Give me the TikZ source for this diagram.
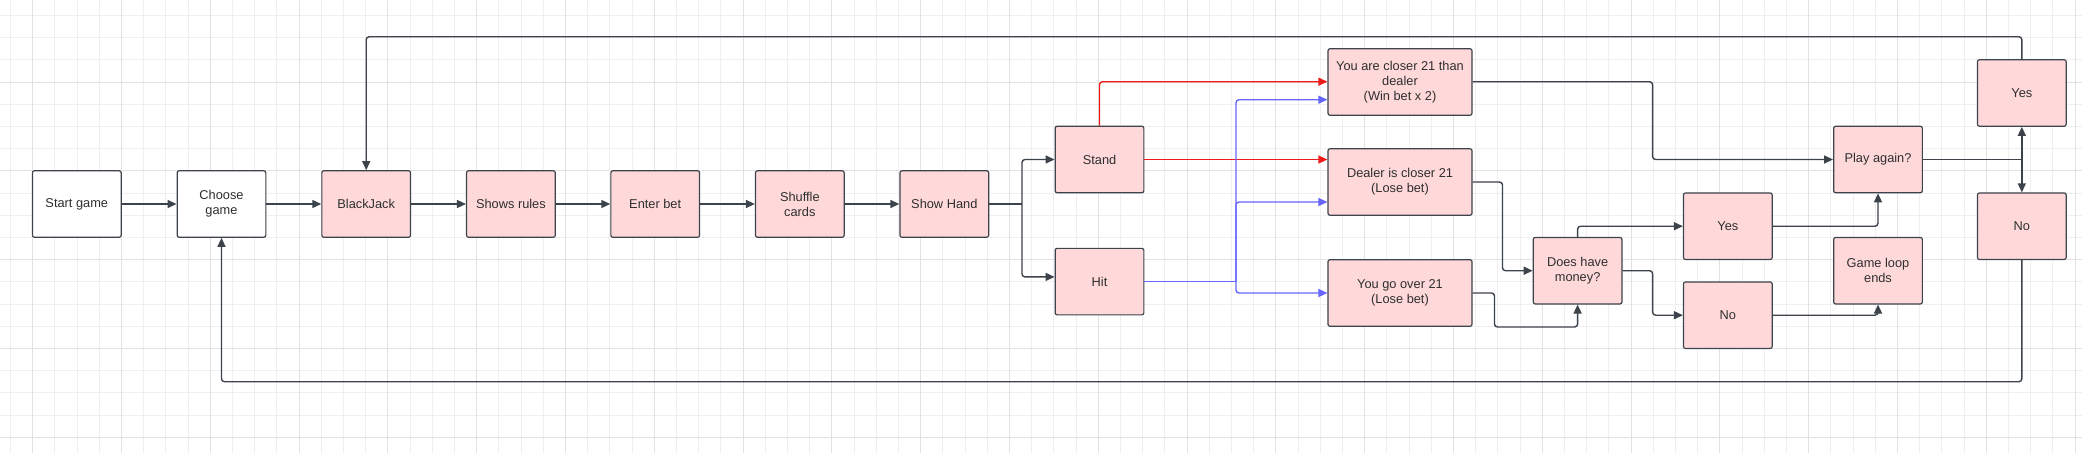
\documentclass[tikz,border=0pt]{standalone}
\usepackage{fontspec}
\setmainfont{Liberation Sans}
\usetikzlibrary{arrows.meta,calc}
\definecolor{pinkfill}{HTML}{FFD9DA}
\definecolor{edgecol}{HTML}{3D434B}
\definecolor{txtcol}{HTML}{2E2E2E}
\definecolor{redline}{HTML}{EE1B1B}
\definecolor{blueline}{HTML}{6666FF}
\definecolor{gridminor}{HTML}{EFEFEF}
\definecolor{gridmajor}{HTML}{E2E2E2}
\begin{document}
\begin{tikzpicture}[x=1pt,y=-1pt,
  box/.style={draw=edgecol,line width=1.2pt,fill=pinkfill,rounded corners=2pt,
    minimum width=88.7pt,minimum height=66.5pt,inner sep=0pt,align=center,
    text=txtcol,font=\fontsize{12.8}{15}\selectfont},
  wbox/.style={box,fill=white},
  widebox/.style={box,minimum width=144pt},
  conn/.style={draw=edgecol,line width=1.4pt,rounded corners=3pt},
  arr/.style={-{Triangle[length=9pt,width=8pt]}},
  rconn/.style={conn,draw=redline},
  bconn/.style={conn,draw=blueline}
]
\useasboundingbox (0,0) rectangle (2082,453);
\fill[white] (0,0) rectangle (2082,453);
% grid
\foreach \i in {0,...,93} \draw[gridminor,line width=0.9pt] ({10.5+22.2*\i},0) -- ({10.5+22.2*\i},453);
\foreach \j in {0,...,20} \draw[gridminor,line width=0.9pt] (0,{437.3-22.2*\j}) -- (2082,{437.3-22.2*\j});
\foreach \i in {0,...,23} \draw[gridmajor,line width=1pt] ({32.7+88.8*\i},0) -- ({32.7+88.8*\i},453);
\foreach \j in {0,...,4} \draw[gridmajor,line width=1pt] (0,{437.3-88.8*\j}) -- (2082,{437.3-88.8*\j});

% nodes
\node[wbox] (start) at (76.8,204) {Start game};
\node[wbox] (choose) at (221.5,204) {Choose\\game};
\node[box] (bj) at (366.2,204) {BlackJack};
\node[box] (rules) at (510.9,204) {Shows rules};
\node[box] (bet) at (655.2,204) {Enter bet};
\node[box] (shuffle) at (799.8,204) {Shuffle\\cards};
\node[box] (show) at (944.3,204) {Show Hand};
\node[box] (stand) at (1099.5,159.5) {Stand};
\node[box] (hit) at (1099.5,281.6) {Hit};
\node[widebox] (win) at (1400,82) {You are closer 21 than\\dealer\\(Win bet x 2)};
\node[widebox] (dealer) at (1400,182) {Dealer is closer 21\\(Lose bet)};
\node[widebox] (over) at (1400,293) {You go over 21\\(Lose bet)};
\node[box] (money) at (1577.6,270.7) {Does have\\money?};
\node[box] (yes1) at (1727.8,226.2) {Yes};
\node[box] (no1) at (1727.8,315.2) {No};
\node[box] (play) at (1878,159.5) {Play again?};
\node[box] (gle) at (1878,270.7) {Game loop\\ends};
\node[box] (yes2) at (2021.8,93) {Yes};
\node[box] (no2) at (2021.8,226.2) {No};

\coordinate (sh) at (1022,204);
\coordinate (hb) at (1236,281.6);
\coordinate (pr) at (2021.8,159.5);

% main line
\draw[conn,arr] (start) -- (choose);
\draw[conn,arr] (choose) -- (bj);
\draw[conn,arr] (bj) -- (rules);
\draw[conn,arr] (rules) -- (bet);
\draw[conn,arr] (bet) -- (shuffle);
\draw[conn,arr] (shuffle) -- (show);
\draw[conn] (show.east) -- (sh);
\draw[conn,arr] (sh) |- (stand.west);
\draw[conn,arr] (sh) |- ([yshift=4.7pt]hit.west);

% red
\draw[rconn,arr] (stand.north) |- ([yshift=0.3pt]win.west);
\draw[rconn,arr] (stand.east) -- (stand.east -| dealer.west);
% blue
\draw[bconn] (hit.east) -- (hb);
\draw[bconn,arr] (hb) |- ([yshift=-17.7pt]win.west);
\draw[bconn,arr] (hb) |- ([yshift=-20pt]dealer.west);
\draw[bconn,arr] (hb) |- (over.west);

% outcomes
\draw[conn,arr] ([yshift=0.3pt]win.east) -- (1652.6,81.7) |- (play.west);
\draw[conn,arr] (dealer.east) -- (1502.5,182) |- (money.west);
\draw[conn,arr] (over.east) -- (1494.5,293) |- (1577.6,327) -- (money.south);
\draw[conn,arr] (money.north) |- (yes1.west);
\draw[conn,arr] (money.east) -- (1652.6,270.7) |- (no1.west);
\draw[conn,arr] (yes1.east) -| (play.south);
\draw[conn,arr] (no1.east) -| (gle.south);
\draw[conn] (play.east) -- (pr);
\draw[conn,arr] (pr) -- (yes2.south);
\draw[conn,arr] (pr) -- (no2.north);
\draw[conn,arr] (yes2.north) |- (366.2,36.7) -- (bj.north);
\draw[conn,arr] (no2.south) |- (221.5,381.7) -- (choose.south);
\end{tikzpicture}
\end{document}
